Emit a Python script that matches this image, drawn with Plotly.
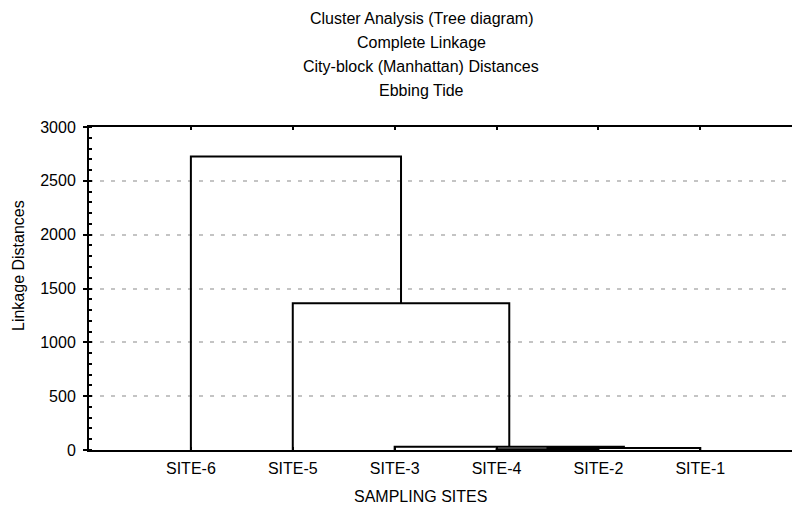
import plotly.graph_objects as go

# Leaf order along the x axis (left to right)
sites = ["SITE-6", "SITE-5", "SITE-3", "SITE-4", "SITE-2", "SITE-1"]

# Agglomeration schedule: (left member, right member, linkage distance).
# Members are leaf names or indices of earlier merges ("#k").
merges = [
    ("SITE-4", "SITE-2", 8),
    ("#0", "SITE-1", 18),
    ("SITE-3", "#1", 30),
    ("SITE-5", "#2", 1362),
    ("SITE-6", "#3", 2725),
]

title_lines = [
    "Cluster Analysis (Tree diagram)",
    "Complete Linkage",
    "City-block (Manhattan) Distances",
    "Ebbing Tide",
]
x_title = "SAMPLING SITES"
y_title = "Linkage Distances"

# Position of each node: leaves sit at 1..n at height 0
pos = {s: (i + 1, 0.0) for i, s in enumerate(sites)}
xs, ys = [], []
for k, (a, b, h) in enumerate(merges):
    xa, ha = pos[a]
    xb, hb = pos[b]
    xs += [xa, xa, xb, xb, None]
    ys += [ha, h, h, hb, None]
    pos[f"#{k}"] = ((xa + xb) / 2, h)

fig = go.Figure()
fig.add_trace(go.Scatter(
    x=xs, y=ys, mode="lines",
    line=dict(color="black", width=2),
    hoverinfo="skip", showlegend=False,
))

font = dict(family="Liberation Sans, Arial, sans-serif", size=16, color="black")

W, H = 792, 510
ml, mr, mt, mb = 89, 0, 127, 60
pw, ph = W - ml - mr, H - mt - mb


def px_x(x):
    return (x - ml) / pw


def px_y(y):
    return (H - mb - y) / ph


for ypix, txt in zip([18, 42, 66, 90], title_lines):
    fig.add_annotation(
        text=txt, xref="paper", yref="paper",
        x=px_x(421), y=px_y(ypix),
        xanchor="center", yanchor="middle", showarrow=False, font=font,
    )

# Axis titles
fig.add_annotation(
    text=x_title, xref="paper", yref="paper",
    x=px_x(420), y=px_y(497),
    xanchor="center", yanchor="middle", showarrow=False, font=font,
)
fig.add_annotation(
    text=y_title, xref="paper", yref="paper", textangle=-90,
    x=px_x(18), y=px_y(266),
    xanchor="center", yanchor="middle", showarrow=False, font=font,
)

fig.update_layout(
    width=W, height=H,
    margin=dict(l=ml, r=mr, t=mt, b=mb),
    paper_bgcolor="white", plot_bgcolor="white",
    font=font,
    xaxis=dict(
        range=[0, 6.9],
        tickmode="array", tickvals=list(range(1, len(sites) + 1)), ticktext=sites,
        showgrid=False, zeroline=False,
        showline=True, linecolor="black", linewidth=2, mirror="ticks",
        ticks="inside", ticklen=3, tickwidth=2, tickcolor="black",
        ticklabelstandoff=3,
        tickfont=font,
    ),
    yaxis=dict(
        range=[0, 3000],
        tickmode="linear", tick0=0, dtick=500,
        showgrid=True, gridcolor="#c4c4c4", gridwidth=2, griddash="4px,7px",
        zeroline=False,
        showline=True, linecolor="black", linewidth=2,
        ticks="outside", ticklen=4, tickwidth=2, tickcolor="black",
        ticklabelstandoff=4,
        minor=dict(dtick=100, ticks="inside", ticklen=3, tickwidth=2,
                   tickcolor="black", showgrid=False),
        tickfont=font,
    ),
)

fig.write_html("out.html")
